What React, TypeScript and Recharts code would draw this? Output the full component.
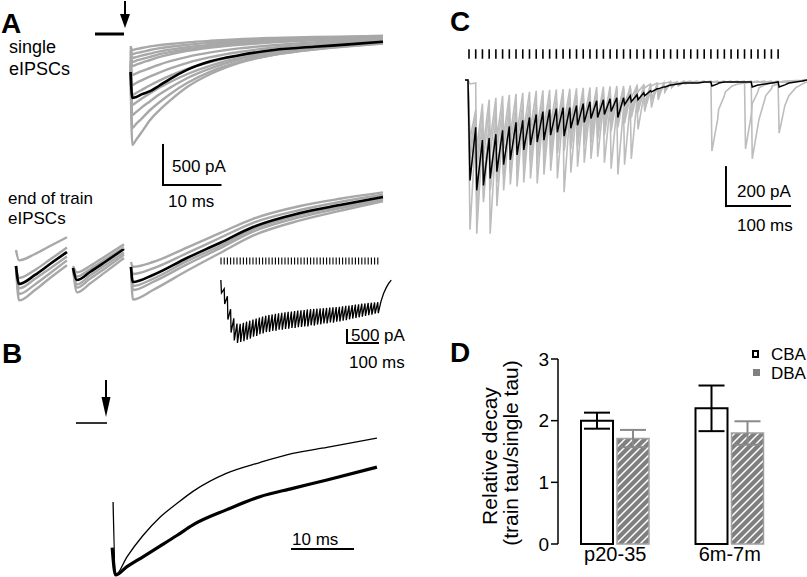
import React from 'react'
import { ComposedChart, Line, XAxis, YAxis, ReferenceLine, BarChart, Bar, ErrorBar } from 'recharts'

const FONT = '"Liberation Sans", Arial, Helvetica, sans-serif'
const GRAY = '#a8a8a8'
const LIGHT = '#bdbdbd'

// ---- A: single eIPSCs (ms, pA) ----
const PRE_T = [-6.09, -1.04]
const PRE_V = [0, 0]
const SINGLE_T = [0.1, 0.4, 1, 2, 3.5, 5, 7, 10, 14, 19, 25, 32, 38, 44]
const SINGLE_MEAN = [-475, -800, -790, -755, -715, -650, -560, -445, -340, -265, -200, -160, -130, -96]
const SINGLE_GRAY = [
  [-150, -200, -190, -175, -155, -140, -125, -105, -85, -65, -50, -38, -30, -22],
  [-170, -250, -240, -225, -200, -180, -160, -135, -110, -85, -65, -50, -40, -30],
  [-200, -300, -290, -270, -245, -220, -195, -165, -135, -105, -80, -60, -48, -38],
  [-220, -350, -335, -315, -285, -255, -225, -190, -155, -120, -95, -72, -58, -45],
  [-250, -400, -385, -360, -325, -290, -255, -210, -170, -135, -105, -80, -65, -50],
  [-280, -512, -495, -465, -425, -385, -340, -285, -230, -180, -140, -105, -85, -65],
  [-320, -637, -615, -580, -530, -485, -430, -360, -290, -225, -170, -130, -105, -80],
  [-350, -762, -740, -700, -640, -585, -520, -435, -350, -270, -205, -155, -125, -95],
  [-380, -887, -860, -810, -740, -675, -600, -500, -395, -300, -225, -170, -135, -105],
  [-400, -1012, -980, -920, -840, -760, -670, -550, -430, -320, -240, -180, -140, -110],
  [-450, -1175, -1130, -1060, -950, -860, -750, -610, -470, -350, -260, -195, -155, -120],
  [-500, -1387, -1330, -1230, -1075, -960, -830, -660, -500, -360, -260, -190, -150, -116],
]

// ---- A: end of train eIPSCs (ms, pA relative to the train plateau) ----
const SEG1_T = [-19.83, -19.3, -16.52, -13.91, -10.96]
const SEG1_MEAN = [-950, -1175, -1062, -925, -775]
const SEG1_GRAY = [
  [-750, -880, -800, -700, -590],
  [-950, -1300, -1180, -1040, -880],
  [-950, -1380, -1250, -1100, -940],
  [-950, -1100, -1000, -870, -720],
  [-950, -1230, -1110, -980, -830],
]
const SEG2_T = [-9.91, -9.22, -6.96, -4.35, -1.04]
const SEG2_MEAN = [-975, -1125, -1025, -900, -737]
const SEG2_GRAY = [
  [-950, -1030, -950, -830, -680],
  [-975, -1220, -1110, -980, -810],
  [-975, -1280, -1170, -1030, -850],
  [-975, -1080, -990, -870, -720],
  [-975, -1180, -1070, -940, -780],
]
const SEG3_T = [0.17, 0.5, 4, 9.9, 15.6, 21.4, 29.6, 36.5, 44]
const SEG3_MEAN = [-962, -1150, -1062, -850, -662, -462, -287, -187, -87]
const SEG3_GRAY = [
  [-900, -960, -900, -720, -540, -360, -200, -110, -30],
  [-962, -1250, -1150, -930, -730, -520, -340, -230, -120],
  [-962, -1370, -1250, -1010, -790, -570, -380, -260, -140],
  [-962, -1050, -980, -790, -600, -410, -250, -150, -60],
  [-962, -1200, -1110, -890, -700, -490, -310, -210, -100],
]

// ---- A inset: whole train (pulse number, pA) ----
const INSET_PULSES = [0, 1, 2, 3, 4, 5, 6, 7, 8, 9, 10, 11, 12, 13, 14, 15, 16, 17, 18, 19, 20, 21, 22, 23, 24, 25, 26, 27, 28, 29, 30, 31, 32, 33, 34, 35, 36, 37, 38, 39, 40, 41, 42, 43, 44, 45, 46, 47, 48, 49]
const INSET_START_T = [-0.05]
const INSET_START_V = [-80]
const INSET_TROUGHS = [-580, -1000, -1600, -2100, -2400, -2500, -2460, -2430, -2370, -2330, -2260, -2230, -2160, -2130, -2080, -2070, -2030, -2030, -1990, -1990, -1960, -1950, -1920, -1920, -1890, -1880, -1860, -1860, -1820, -1830, -1790, -1780, -1750, -1750, -1710, -1720, -1680, -1670, -1640, -1620, -1590, -1560, -1540, -1510, -1490, -1460, -1430, -1410, -1370, -1350]
const INSET_PEAKS = [-420, -700, -1200, -1550, -1750, -1760, -1720, -1680, -1640, -1600, -1560, -1520, -1480, -1450, -1420, -1400, -1380, -1360, -1340, -1320, -1300, -1290, -1270, -1250, -1240, -1230, -1210, -1200, -1190, -1180, -1170, -1160, -1150, -1140, -1130, -1120, -1110, -1090, -1070, -1060, -1040, -1020, -1010, -990, -980, -960, -950, -940, -930, -900]
const INSET_TAIL_T = [50.8, 51.6, 52.4, 53.2]
const INSET_TAIL_V = [-600, -380, -210, -80]

// ---- B: normalised single vs end-of-train eIPSC (ms, fraction of peak) ----
const B_PRE_T = [-6.23, -1.15]
const B_PRE_V = [0, 0]
const B_THIN_T = [-0.15, 0.25, 2.13, 4.75, 7.54, 10.3, 12.95, 18.5, 23.9, 29.3, 34.9, 43.1]
const B_THIN_V = [-0.52, -1.0, -0.88, -0.74, -0.62, -0.53, -0.45, -0.33, -0.26, -0.2, -0.16, -0.1]
const B_THICK_T = [-0.3, 0.25, 2.13, 4.75, 7.54, 10.3, 12.95, 18.5, 23.9, 29.3, 34.9, 43.1]
const B_THICK_V = [-0.82, -1.0, -0.945, -0.88, -0.81, -0.74, -0.67, -0.57, -0.485, -0.43, -0.375, -0.29]

// ---- C: DBA train (pulse number, pA) ----
const C_PULSES = [0, 1, 2, 3, 4, 5, 6, 7, 8, 9, 10, 11, 12, 13, 14, 15, 16, 17, 18, 19, 20, 21, 22, 23, 24, 25, 26, 27, 28, 29, 30, 31, 32, 33, 34, 35, 36, 37, 38, 39, 40, 41, 42, 43, 44, 45, 46]
const C_START_T = [-0.6, -0.15]
const C_START_V = [0, 0]
const C_TAIL_T = [47.6, 48.6, 49.6, 50.3]
const C_MEAN_TROUGHS = [-510, -560, -535, -500, -465, -430, -405, -380, -355, -330, -315, -305, -280, -265, -285, -245, -230, -215, -195, -190, -175, -160, -190, -125, -110, -100, -80, -60, -45, -35, -25, -20, -15, -15, -15, -10, -30, -15, -10, -10, -10, -10, -35, -25, -20, -15, -35]
const C_MEAN_PEAKS = [-240, -305, -295, -275, -255, -235, -215, -205, -190, -175, -160, -150, -145, -140, -140, -130, -120, -110, -105, -100, -95, -90, -90, -80, -75, -65, -55, -45, -35, -25, -20, -15, -15, -15, -10, -10, -20, -10, -10, -10, -10, -10, -25, -20, -15, -10, -25]
const C_MEAN_TAIL = [-15, -10, -5, 0]
const C_GRAY_TROUGHS = [
  [-760, -600, -560, -520, -500, -480, -470, -450, -440, -420, -430, -400, -380, -370, -360, -340, -330, -320, -300, -280, -250, -200, -150, -120, -90, -60, -40, -30, -20, -15, -15, -15, -10, -10, -10, -10, -10, -10, -10, -10, -10, -10, -10, -10, -10, -10, -10],
  [-20, -780, -620, -560, -520, -480, -460, -430, -410, -390, -370, -350, -330, -310, -300, -290, -280, -270, -260, -250, -240, -230, -220, -200, -180, -150, -120, -90, -60, -40, -30, -20, -15, -15, -10, -10, -10, -10, -10, -10, -10, -10, -10, -10, -10, -10, -10],
  [-400, -450, -500, -780, -640, -560, -530, -540, -520, -500, -525, -480, -460, -500, -570, -470, -440, -420, -400, -390, -420, -450, -480, -430, -400, -250, -150, -100, -60, -40, -25, -20, -15, -10, -10, -10, -10, -10, -10, -10, -10, -10, -10, -10, -10, -10, -10],
  [-300, -350, -330, -310, -300, -290, -280, -270, -260, -250, -245, -240, -230, -225, -220, -215, -210, -205, -200, -195, -190, -185, -180, -175, -170, -165, -160, -140, -100, -60, -30, -20, -10, -10, -10, -10, -10, -10, -10, -10, -10, -10, -10, -10, -10, -10, -10],
  [-350, -420, -400, -380, -360, -350, -340, -330, -320, -310, -300, -290, -280, -270, -260, -250, -240, -230, -220, -210, -200, -190, -180, -170, -160, -140, -120, -100, -80, -60, -40, -30, -20, -15, -10, -10, -360, -150, -60, -30, -20, -15, -400, -200, -80, -30, -270],
  [-500, -650, -600, -560, -520, -490, -470, -450, -430, -410, -400, -390, -380, -370, -360, -350, -340, -330, -320, -300, -280, -260, -240, -220, -190, -160, -130, -100, -70, -45, -30, -20, -15, -10, -10, -10, -10, -10, -10, -10, -10, -350, -120, -40, -20, -15, -10],
]
const C_GRAY_PEAKS = [
  [-260, -240, -220, -200, -185, -170, -160, -150, -140, -130, -125, -120, -110, -100, -95, -90, -85, -80, -75, -70, -60, -50, -45, -40, -30, -25, -20, -15, -15, -10, -10, -10, -10, -10, -10, -10, -10, -10, -10, -10, -10, -10, -10, -10, -10, -10, -10],
  [-15, -300, -270, -250, -230, -210, -195, -180, -170, -160, -150, -140, -130, -120, -115, -110, -105, -100, -95, -90, -85, -80, -75, -70, -60, -50, -40, -30, -25, -20, -15, -15, -10, -10, -10, -10, -10, -10, -10, -10, -10, -10, -10, -10, -10, -10, -10],
  [-200, -230, -260, -300, -260, -230, -210, -200, -195, -190, -180, -170, -160, -160, -165, -150, -140, -135, -130, -125, -130, -140, -140, -120, -100, -80, -60, -45, -30, -20, -15, -10, -10, -10, -10, -10, -10, -10, -10, -10, -10, -10, -10, -10, -10, -10, -10],
  [-150, -120, -100, -90, -80, -75, -70, -65, -60, -55, -52, -50, -48, -46, -44, -42, -40, -38, -36, -34, -32, -30, -30, -28, -26, -25, -24, -20, -15, -10, -10, -5, -5, -5, -5, -5, -5, -5, -5, -5, -5, -5, -5, -5, -5, -5, -5],
  [-180, -160, -150, -140, -135, -130, -125, -120, -115, -110, -105, -100, -95, -90, -85, -80, -75, -70, -65, -60, -55, -50, -45, -40, -35, -30, -25, -20, -15, -12, -10, -10, -10, -10, -10, -10, -200, -80, -35, -20, -15, -10, -230, -100, -45, -20, -130],
  [-230, -260, -240, -220, -205, -190, -180, -170, -160, -150, -145, -140, -135, -130, -125, -120, -115, -110, -105, -100, -95, -90, -85, -80, -70, -60, -50, -40, -30, -20, -15, -10, -10, -10, -10, -10, -10, -10, -10, -10, -10, -180, -60, -25, -15, -10, -10],
]
const C_GRAY_TAILS = [
  [-8, -5, -3, 0],
  [-8, -5, -3, 0],
  [-8, -5, -3, 0],
  [-5, -3, -2, 0],
  [-80, -40, -20, -10],
  [-8, -5, -3, 0],
]

// ---- D: relative decay ----
const GROUPS = ['p20-35', '6m-7m']
const CBA = [2.0, 2.2]
const CBA_ERR = [0.13, 0.37]
const DBA = [1.71, 1.8]
const DBA_ERR = [0.14, 0.19]
const D_TICKS = [0, 1, 2, 3]

type Row = { t: number; v: number | null }

const toRows = (ts: number[], vs: number[]): Row[] => ts.map((t, i) => ({ t, v: vs[i] }))

// each pulse: fast drop to the trough just after the pulse, slow recovery until the next one
function sawRows(startT: number[], startV: number[], troughs: number[], peaks: number[], lat: number, tailT: number[], tailV: number[]): Row[] {
  const out: Row[] = toRows(startT, startV)
  troughs.forEach((v, k) => {
    out.push({ t: k + lat, v })
    out.push({ t: k + 1, v: peaks[k] })
  })
  return out.concat(toRows(tailT, tailV))
}

function trace(key: string, data: Row[], stroke: string, width: number, curve: 'monotone' | 'linear' = 'monotone') {
  return (
    <Line
      key={key}
      data={data}
      dataKey="v"
      type={curve}
      stroke={stroke}
      strokeWidth={width}
      dot={false}
      activeDot={false}
      isAnimationActive={false}
    />
  )
}

function seg(key: string, x1: number, y1: number, x2: number, y2: number, w = 2) {
  return (
    <ReferenceLine
      key={key}
      segment={[{ x: x1, y: y1 }, { x: x2, y: y2 }]}
      stroke="#000"
      strokeWidth={w}
      strokeLinecap="square"
    />
  )
}

function Traces({ left, top, width, height, x, y, children }: any) {
  return (
    <div style={{ position: 'absolute', left, top, width, height }}>
      <ComposedChart width={width} height={height} margin={{ top: 0, right: 0, bottom: 0, left: 0 }}>
        <XAxis type="number" dataKey="t" domain={x} hide allowDataOverflow />
        <YAxis type="number" dataKey="v" domain={y} hide allowDataOverflow />
        {children}
      </ComposedChart>
    </div>
  )
}

const segments = [
  { t: SEG1_T, mean: SEG1_MEAN, gray: SEG1_GRAY },
  { t: SEG2_T, mean: SEG2_MEAN, gray: SEG2_GRAY },
  { t: SEG3_T, mean: SEG3_MEAN, gray: SEG3_GRAY },
]

const barRows = GROUPS.map((g, i) => ({ group: g, cba: CBA[i], cbaErr: CBA_ERR[i], dba: DBA[i], dbaErr: DBA_ERR[i] }))

export default function App() {
  const txt = { fontFamily: FONT, fill: '#000' }
  return (
    <div style={{ position: 'absolute', left: 0, top: 0, width: 807, height: 577, background: '#fff', overflow: 'hidden' }}>
      {/* A, single */}
      <Traces left={94} top={26} width={292} height={164} x={[-6.261, 44.522]} y={[-1950, 100]}>
        {trace('pre', toRows(PRE_T, PRE_V), '#000', 3, 'linear')}
        {SINGLE_GRAY.map((g, i) => trace('sg' + i, toRows(SINGLE_T, g), GRAY, 2.4))}
        {trace('sm', toRows(SINGLE_T, SINGLE_MEAN), '#000', 2.6)}
        {seg('sv', 5.74, -1387, 5.74, -1887)}
        {seg('sh', 5.74, -1887, 15.74, -1887)}
      </Traces>

      {/* A, end of train */}
      <Traces left={10} top={186} width={376} height={124} x={[-20.87, 44.522]} y={[-1500, 50]}>
        {segments.flatMap((s, j) => s.gray.map((g, i) => trace('eg' + j + i, toRows(s.t, g), GRAY, 2.4)))}
        {segments.map((s, j) => trace('em' + j, toRows(s.t, s.mean), '#000', 2.6))}
      </Traces>

      {/* A, inset train */}
      <Traces left={216} top={252} width={178} height={98} x={[-1.5625, 54.0625]} y={[-2769, 1000]}>
        {INSET_PULSES.map((k) => seg('ip' + k, k, 769, k, 538, 1.1))}
        {trace('it', sawRows(INSET_START_T, INSET_START_V, INSET_TROUGHS, INSET_PEAKS, 0.15, INSET_TAIL_T, INSET_TAIL_V), '#000', 1.3, 'linear')}
        {seg('iv', 39.375, -2000, 39.375, -2500)}
        {seg('ih', 39.375, -2500, 49.06, -2500)}
      </Traces>

      {/* B */}
      <Traces left={70} top={374} width={315} height={208} x={[-7.213, 44.426]} y={[-1.046, 0.3224]}>
        {trace('bpre', toRows(B_PRE_T, B_PRE_V), '#000', 1.6, 'linear')}
        {trace('bthin', toRows(B_THIN_T, B_THIN_V), '#000', 1.3)}
        {trace('bthick', toRows(B_THICK_T, B_THICK_V), '#000', 3.2)}
        {seg('bh', 29.18, -0.829, 39.18, -0.829)}
      </Traces>

      {/* C */}
      <Traces left={461} top={40} width={346} height={200} x={[-1.1905, 50.298]} y={[-812, 203]}>
        {C_PULSES.map((k) => seg('cp' + k, k, 152, k, 112, 1.6))}
        {C_GRAY_TROUGHS.map((tr, i) =>
          trace('cg' + i, sawRows(C_START_T, C_START_V, tr, C_GRAY_PEAKS[i], 0.15, C_TAIL_T, C_GRAY_TAILS[i]), LIGHT, 1.6, 'linear')
        )}
        {trace('cm', sawRows(C_START_T, C_START_V, C_MEAN_TROUGHS, C_MEAN_PEAKS, 0.15, C_TAIL_T, C_MEAN_TAIL), '#000', 1.5, 'linear')}
        {seg('cv', 38.24, -442, 38.24, -640)}
        {seg('ch', 38.24, -640, 47.77, -640)}
      </Traces>

      {/* D */}
      <div style={{ position: 'absolute', left: 500, top: 340 }}>
        <BarChart
          width={287}
          height={237}
          data={barRows}
          margin={{ top: 19, right: 0, bottom: 3, left: 8 }}
          barGap={4}
          barCategoryGap={23}
        >
          <XAxis
            dataKey="group"
            axisLine={false}
            tickLine={false}
            tickSize={1}
            height={30}
            tick={{ fontSize: 20, fill: '#000', fontFamily: FONT }}
          />
          <YAxis
            domain={[0, 3]}
            ticks={D_TICKS}
            width={50}
            tickSize={7}
            axisLine={{ stroke: '#000', strokeWidth: 1.5 }}
            tickLine={{ stroke: '#000', strokeWidth: 1.5 }}
            tick={{ fontSize: 19, fill: '#000', fontFamily: FONT }}
          />
          <Bar dataKey="cba" barSize={32} fill="#fff" stroke="#000" strokeWidth={2} isAnimationActive={false}>
            <ErrorBar dataKey="cbaErr" width={13} stroke="#000" strokeWidth={2} isAnimationActive={false} />
          </Bar>
          <Bar dataKey="dba" barSize={32} fill="url(#dbaHatch)" stroke="#a0a0a0" strokeWidth={1.5} isAnimationActive={false}>
            <ErrorBar dataKey="dbaErr" width={13} stroke="#8a8a8a" strokeWidth={2} isAnimationActive={false} />
          </Bar>
        </BarChart>
      </div>

      {/* labels, arrows, legend */}
      <svg width={807} height={577} style={{ position: 'absolute', left: 0, top: 0, pointerEvents: 'none' }}>
        <defs>
          <pattern id="dbaHatch" patternUnits="userSpaceOnUse" width="8" height="8">
            <rect width="8" height="8" fill="#7f7f7f" />
            <path d="M-2,2 L2,-2 M0,8 L8,0 M6,10 L10,6" stroke="#fff" strokeWidth="1.5" />
          </pattern>
        </defs>

        <g style={txt as any} fontWeight="bold" fontSize={28}>
          <text x={1} y={33}>A</text>
          <text x={2} y={363}>B</text>
          <text x={450} y={31}>C</text>
          <text x={450} y={362}>D</text>
        </g>

        <g style={txt as any} fontSize={18}>
          <text x={9} y={53}>single</text>
          <text x={9} y={75}>eIPSCs</text>
        </g>
        <g style={txt as any} fontSize={17}>
          <text x={8} y={204}>end of train</text>
          <text x={8} y={224}>eIPSCs</text>
          <text x={172} y={172}>500 pA</text>
          <text x={168} y={207}>10 ms</text>
          <text x={351} y={341}>500 pA</text>
          <text x={349} y={368}>100 ms</text>
          <text x={292} y={545}>10 ms</text>
          <text x={737} y={197}>200 pA</text>
          <text x={737} y={231}>100 ms</text>
        </g>

        {/* stimulus arrows */}
        <line x1={125} y1={1} x2={125} y2={16} stroke="#000" strokeWidth={2} />
        <polygon points="120,14 130,14 125,28" fill="#000" />
        <line x1={106} y1={380} x2={106} y2={400} stroke="#000" strokeWidth={2} />
        <polygon points="101.5,397 110.5,397 106,417" fill="#000" />

        {/* D axis title */}
        <g style={txt as any} fontSize={21} textAnchor="middle">
          <text x={497} y={456} transform="rotate(-90 497 456)">Relative decay</text>
          <text x={518} y={453} transform="rotate(-90 518 453)">(train tau/single tau)</text>
        </g>

        {/* D legend */}
        <rect x={753} y={351} width={5} height={6} fill="#fff" stroke="#000" strokeWidth={2} />
        <rect x={753} y={369} width={7} height={7} fill="#808080" />
        <g style={txt as any} fontSize={17}>
          <text x={771} y={360}>CBA</text>
          <text x={771} y={379}>DBA</text>
        </g>
      </svg>
    </div>
  )
}
